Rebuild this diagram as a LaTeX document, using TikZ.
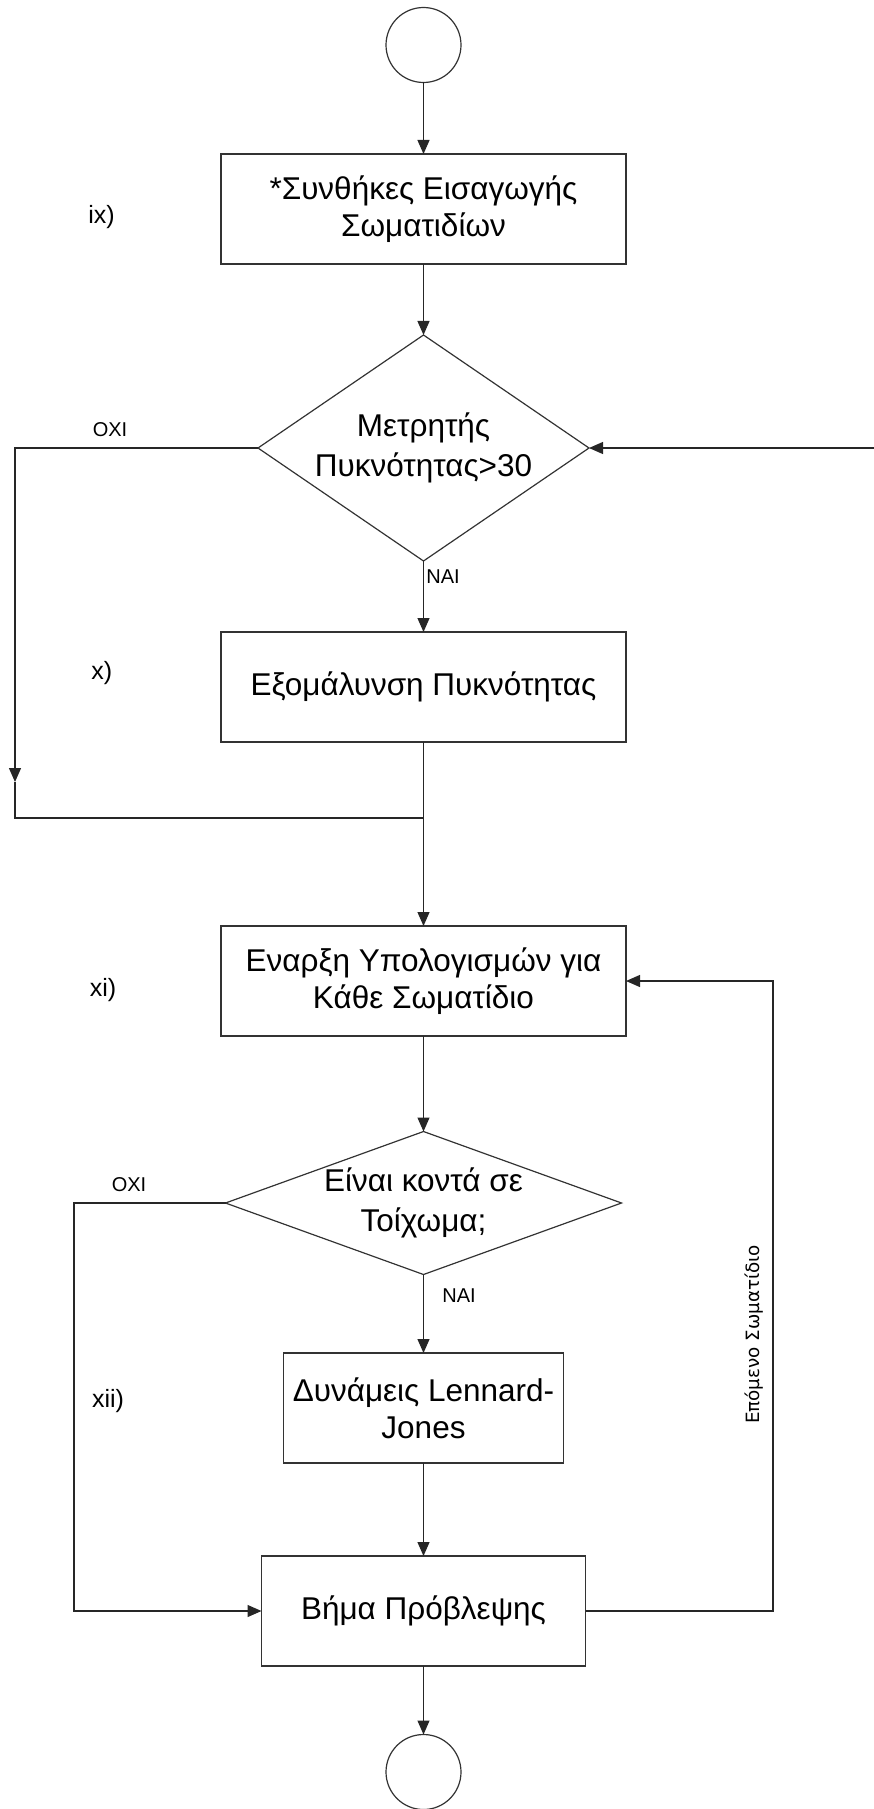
\documentclass[tikz,border=0pt]{standalone}
\usepackage{fontspec}
\setmainfont{Liberation Sans}
\newfontfamily\rotfont{DejaVu Sans}
\usetikzlibrary{shapes.geometric,arrows.meta}
\begin{document}
\begin{tikzpicture}[x=1pt,y=-1pt,
  line width=1.2pt,
  every node/.style={inner sep=0pt, outer sep=0pt},
  proc/.style={draw=black!80, rectangle, minimum height=110pt, align=center, font=\fontsize{31.5}{37}\selectfont},
  dec/.style={draw=black!80, diamond, align=center, font=\fontsize{31.5}{40}\selectfont},
  term/.style={draw=black!80, circle, minimum size=75pt},
  arr/.style={draw=black!85, -{Triangle[length=14pt,width=12pt]}},
  ln/.style={draw=black!85},
  lbl/.style={font=\fontsize{20}{24}\selectfont},
  num/.style={font=\fontsize{25}{30}\selectfont},
  rot/.style={font=\rotfont\fontsize{18.3}{22}\selectfont, rotate=90}]
\useasboundingbox (0,0) rectangle (874,1809);
\node[term] (start) at (423.5,45) {};
\node[proc, minimum width=405pt] (b1) at (423.5,209) {*Συνθήκες Εισαγωγής\\Σωματιδίων};
\node[dec, minimum width=331pt, minimum height=226pt, aspect=1.46] (d1) at (423.5,448) {Μετρητής\\Πυκνότητας>30};
\node[proc, minimum width=405pt] (b2) at (423.5,687) {Εξομάλυνση Πυκνότητας};
\node[proc, minimum width=405pt] (b3) at (423.5,981) {Εναρξη Υπολογισμών για\\Κάθε Σωματίδιο};
\node[dec, minimum width=396pt, minimum height=143pt, aspect=2.77] (d2) at (423.5,1203) {Είναι κοντά σε\\Τοίχωμα;};
\node[proc, minimum width=280pt] (b4) at (423.5,1408) {Δυνάμεις Lennard-\\Jones};
\node[proc, minimum width=324pt] (b5) at (423.5,1611) {Βήμα Πρόβλεψης};
\node[term] (end) at (423.5,1772) {};

\coordinate (rin) at (874,448);
\coordinate (l1) at (15,448);
\coordinate (l1b) at (15,782);
\coordinate (m1) at (15,818);
\coordinate (mj) at (423.5,818);
\coordinate (l2) at (74,1203);
\coordinate (l2b) at (74,1611);
\coordinate (r2) at (773,1611);
\coordinate (r2b) at (773,981);

\draw[arr] (start) -- (b1);
\draw[arr] (b1) -- (d1);
\draw[arr] (rin) -- (d1.east);
\draw[arr] (d1.south) -- (b2.north);
\draw[arr] (d1.west) -- (l1) -- (l1b);
\draw[ln] (l1b) -- (m1) -- (mj);
\draw[arr] (b2.south) -- (b3.north);
\draw[arr] (b3.south) -- (d2.north);
\draw[arr] (d2.south) -- (b4.north);
\draw[arr] (d2.west) -- (l2) -- (l2b) -- (b5.west);
\draw[arr] (b4.south) -- (b5.north);
\draw[arr] (b5.east) -- (r2) -- (r2b) -- (b3.east);
\draw[arr] (b5.south) -- (end.north);

\node[lbl] (oxi1) at (110,430) {ΟΧΙ};
\node[lbl] (nai1) at (443,577) {ΝΑΙ};
\node[lbl] (oxi2) at (129,1185) {ΟΧΙ};
\node[lbl] (nai2) at (459,1296) {ΝΑΙ};
\node[num] (n9) at (101.5,217) {ix)};
\node[num] (n10) at (101.7,673) {x)};
\node[num] (n11) at (103,990) {xi)};
\node[num] (n12) at (108,1401) {xii)};
\node[rot] (next) at (754.3,1334.5) {Επόμενο Σωματίδιο};
\end{tikzpicture}
\end{document}
